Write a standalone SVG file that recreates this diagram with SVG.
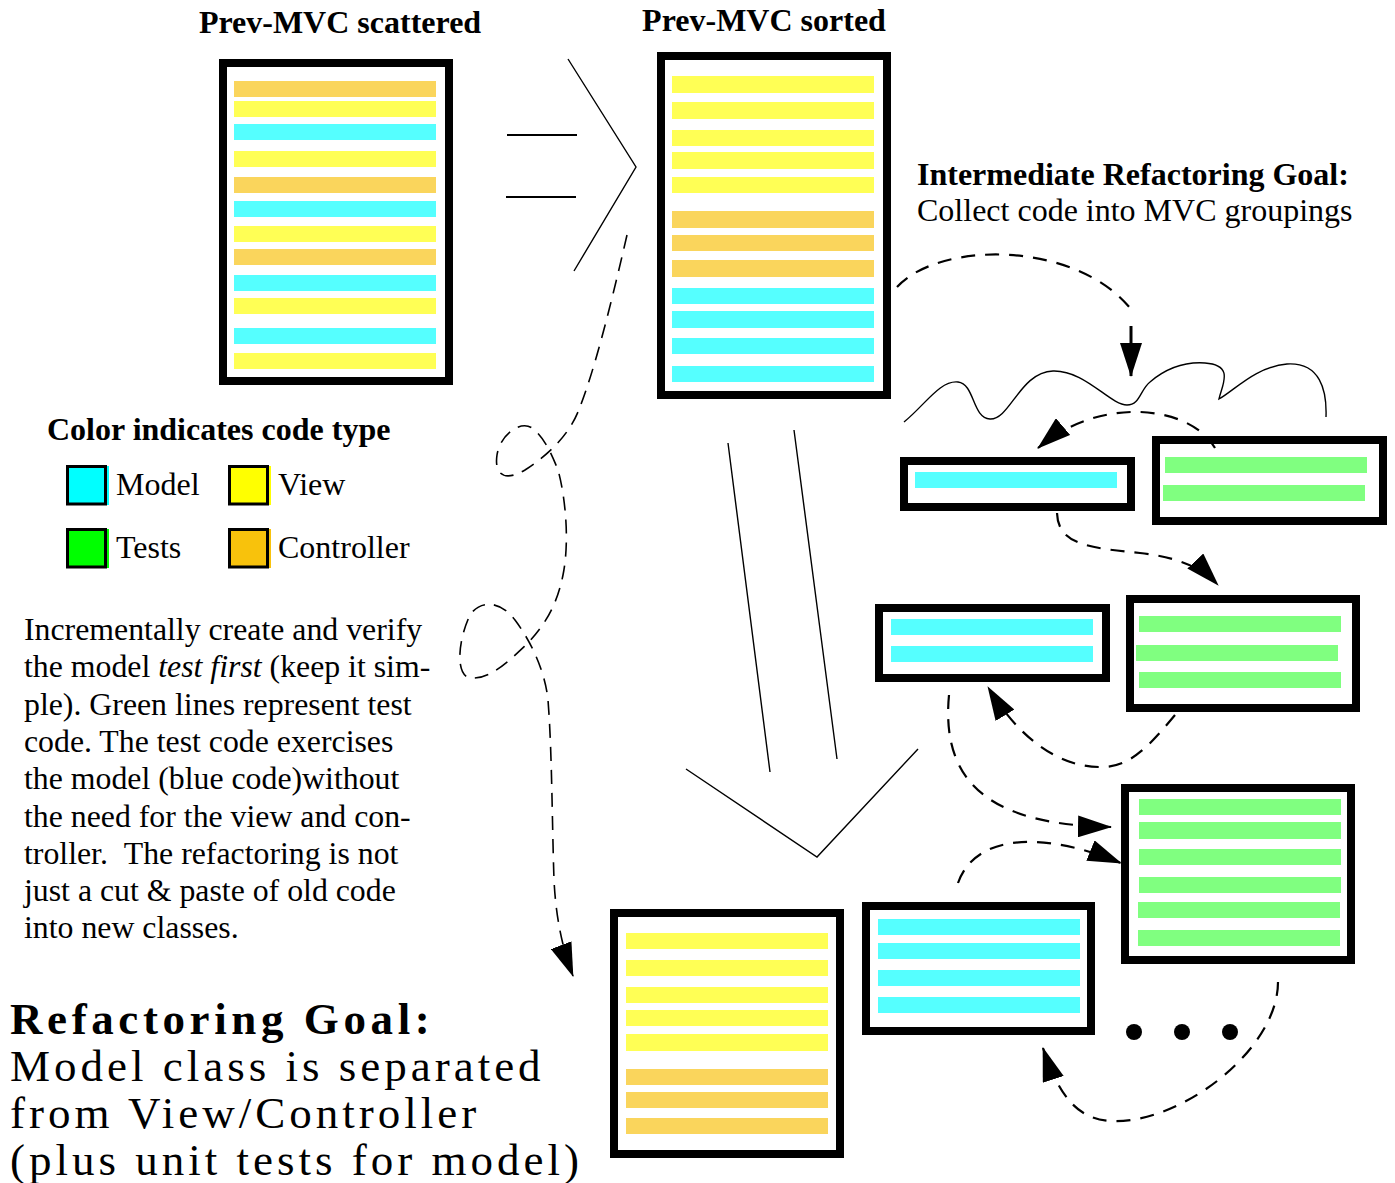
<svg xmlns="http://www.w3.org/2000/svg" width="1395" height="1183" viewBox="0 0 1395 1183">
<defs>
<style>
.box{fill:#fff;stroke:#000;stroke-width:8}
.m{fill:#55FFFF}.v{fill:#FFFF55}.c{fill:#FAD55C}.t{fill:#80FF80}
.thin{fill:none;stroke:#000;stroke-width:1.4}
.bar{fill:none;stroke:#000;stroke-width:2}
.dash{fill:none;stroke:#000;stroke-width:2.2;stroke-dasharray:14 10}
.dashthin{fill:none;stroke:#000;stroke-width:1.6;stroke-dasharray:14 9}
.sw{stroke:#000;stroke-width:3;fill:none}
text{font-family:"Liberation Serif","Times New Roman",serif;fill:#000}
.b{font-weight:bold}
.f{font-size:32px}
.big{font-size:45px;letter-spacing:4px}
.bigb{font-size:45px;letter-spacing:4.6px;font-weight:bold}
</style>
<marker id="ah" markerUnits="userSpaceOnUse" markerWidth="34" markerHeight="22" viewBox="0 0 34 22" refX="33" refY="11" orient="auto">
<path d="M0,0 L34,11 L0,22 z" fill="#000" stroke="none"/>
</marker>
</defs>
<rect width="1395" height="1183" fill="#fff"/>

<g id="title-scattered"><text class="b f" x="340" y="33" text-anchor="middle">Prev-MVC scattered</text></g>
<g id="title-sorted"><text class="b f" x="764" y="31" text-anchor="middle">Prev-MVC sorted</text></g>

<g id="box-scattered">
<rect class="box" x="223" y="63" width="226" height="318"/>
<rect class="c" x="234" y="81" width="202" height="16"/>
<rect class="v" x="234" y="101" width="202" height="16"/>
<rect class="m" x="234" y="124" width="202" height="16"/>
<rect class="v" x="234" y="151" width="202" height="16"/>
<rect class="c" x="234" y="177" width="202" height="16"/>
<rect class="m" x="234" y="201" width="202" height="16"/>
<rect class="v" x="234" y="226" width="202" height="16"/>
<rect class="c" x="234" y="249" width="202" height="16"/>
<rect class="m" x="234" y="275" width="202" height="16"/>
<rect class="v" x="234" y="298" width="202" height="16"/>
<rect class="m" x="234" y="328" width="202" height="16"/>
<rect class="v" x="234" y="353" width="202" height="16"/>
</g>

<g id="box-sorted">
<rect class="box" x="661" y="56" width="226" height="339"/>
<rect class="v" x="672" y="76" width="202" height="17"/>
<rect class="v" x="672" y="102" width="202" height="17"/>
<rect class="v" x="672" y="130" width="202" height="16"/>
<rect class="v" x="672" y="152" width="202" height="17"/>
<rect class="v" x="672" y="177" width="202" height="16"/>
<rect class="c" x="672" y="211" width="202" height="17"/>
<rect class="c" x="672" y="235" width="202" height="16"/>
<rect class="c" x="672" y="260" width="202" height="17"/>
<rect class="m" x="672" y="288" width="202" height="16"/>
<rect class="m" x="672" y="311" width="202" height="17"/>
<rect class="m" x="672" y="338" width="202" height="16"/>
<rect class="m" x="672" y="366" width="202" height="16"/>
</g>

<g id="intermediate-goal">
<text class="b f" x="917" y="185">Intermediate Refactoring Goal:</text>
<text class="f" x="917" y="221">Collect code into MVC groupings</text>
</g>

<g id="legend">
<text class="b f" x="47" y="440">Color indicates code type</text>
<rect x="67" y="466" width="42" height="39" fill="#00FFFF"/><rect class="sw" x="67.5" y="466.5" width="38" height="37.5"/>
<text class="f" x="116" y="495">Model</text>
<rect x="229" y="466" width="42" height="39" fill="#FFFF00"/><rect class="sw" x="229.5" y="466.5" width="38" height="37.5"/>
<text class="f" x="278" y="495">View</text>
<rect x="67" y="529" width="42" height="39" fill="#00FF00"/><rect class="sw" x="67.5" y="529.5" width="38" height="37.5"/>
<text class="f" x="116" y="558">Tests</text>
<rect x="229" y="529" width="42" height="39" fill="#F8C20C"/><rect class="sw" x="229.5" y="529.5" width="38" height="37.5"/>
<text class="f" x="278" y="558">Controller</text>
</g>

<g id="description" style="font-size:31.8px">
<text x="24" y="640">Incrementally create and verify</text>
<text x="24" y="677.3">the model <tspan font-style="italic">test first</tspan> (keep it sim-</text>
<text x="24" y="714.6">ple). Green lines represent test</text>
<text x="24" y="751.9">code. The test code exercises</text>
<text x="24" y="789.2">the model (blue code)without</text>
<text x="24" y="826.5">the need for the view and con-</text>
<text x="24" y="863.8">troller. &#160;The refactoring is not</text>
<text x="24" y="901.1">just a cut &amp; paste of old code</text>
<text x="24" y="938.4">into new classes.</text>
</g>

<g id="refactoring-goal">
<text class="bigb" x="10" y="1034">Refactoring Goal:</text>
<text class="big" x="10" y="1081">Model class is separated</text>
<text class="big" x="10" y="1128">from View/Controller</text>
<text class="big" x="10" y="1175">(plus unit tests for model)</text>
</g>

<g id="box-a">
<rect class="box" x="904" y="461" width="227" height="46"/>
<rect class="m" x="915" y="472" width="202" height="16"/>
</g>
<g id="box-b">
<rect class="box" x="1156" y="440" width="227" height="81"/>
<rect class="t" x="1165" y="457" width="202" height="16"/>
<rect class="t" x="1163" y="485" width="202" height="16"/>
</g>
<g id="box-c">
<rect class="box" x="879" y="608" width="227" height="70"/>
<rect class="m" x="891" y="619" width="202" height="16"/>
<rect class="m" x="891" y="646" width="202" height="16"/>
</g>
<g id="box-d">
<rect class="box" x="1130" y="599" width="226" height="109"/>
<rect class="t" x="1139" y="616" width="202" height="16"/>
<rect class="t" x="1136" y="645" width="202" height="16"/>
<rect class="t" x="1139" y="672" width="202" height="16"/>
</g>
<g id="box-e">
<rect class="box" x="1125" y="788" width="226" height="172"/>
<rect class="t" x="1139" y="799" width="202" height="16"/>
<rect class="t" x="1139" y="822" width="202" height="17"/>
<rect class="t" x="1139" y="849" width="202" height="16"/>
<rect class="t" x="1139" y="877" width="202" height="16"/>
<rect class="t" x="1138" y="902" width="202" height="16"/>
<rect class="t" x="1138" y="930" width="202" height="16"/>
</g>
<g id="box-f">
<rect class="box" x="866" y="906" width="225" height="125"/>
<rect class="m" x="878" y="919" width="202" height="16"/>
<rect class="m" x="878" y="943" width="202" height="16"/>
<rect class="m" x="878" y="970" width="202" height="16"/>
<rect class="m" x="878" y="997" width="202" height="16"/>
</g>
<g id="box-g">
<rect class="box" x="614" y="913" width="226" height="241"/>
<rect class="v" x="626" y="933" width="202" height="16"/>
<rect class="v" x="626" y="960" width="202" height="16"/>
<rect class="v" x="626" y="987" width="202" height="16"/>
<rect class="v" x="626" y="1010" width="202" height="16"/>
<rect class="v" x="626" y="1034" width="202" height="17"/>
<rect class="c" x="626" y="1069" width="202" height="16"/>
<rect class="c" x="626" y="1092" width="202" height="16"/>
<rect class="c" x="626" y="1118" width="202" height="16"/>
</g>
<g id="ellipsis">
<circle cx="1134" cy="1032" r="8"/><circle cx="1182" cy="1032" r="8"/><circle cx="1230" cy="1032" r="8"/>
</g>

<g id="connectors">
<path class="bar" d="M507 135 H577 M506 197 H576"/>
<polyline class="thin" points="568,59 636,167 574,271"/>
<path class="thin" d="M728 443 L770 772 M794 430 L837 759"/>
<polyline class="thin" points="686,769 817,857 918,749"/>
<path class="thin" d="M904 422 C925 405 940 380 958 382 C975 384 972 418 990 419 C1010 420 1020 372 1053 371 C1085 370 1110 405 1127 405 C1140 405 1140 390 1150 382 C1170 365 1190 362 1205 363 C1235 365 1222 385 1219 399 C1235 390 1255 367 1287 364 C1320 362 1327 390 1326 417"/>
<path class="dash" d="M897 287 C940 240 1080 240 1134 313"/>
<path class="sw" d="M1131 326 L1131 376" marker-end="url(#ah)"/>
<path class="dash" d="M1215 448 C1190 405 1100 395 1038 448" marker-end="url(#ah)"/>
<path class="dash" d="M1057 513 C1058 545 1090 548 1140 553 C1175 557 1200 566 1218 585" marker-end="url(#ah)"/>
<path class="dash" d="M1175 715 C1150 745 1130 768 1100 767 C1060 767 1020 740 988 687" marker-end="url(#ah)"/>
<path class="dash" d="M949 695 C940 790 1000 825 1111 827" marker-end="url(#ah)"/>
<path class="dash" d="M958 883 C975 835 1040 830 1121 863" marker-end="url(#ah)"/>
<path class="dash" d="M1278 982 C1278 1050 1180 1125 1110 1121 C1080 1119 1060 1100 1043 1048" marker-end="url(#ah)"/>
<path class="dashthin" d="M627 235 C612 300 595 370 578 412 C568 436 548 455 525 470 C505 482 494 475 497 455 C500 435 520 420 532 428 C545 438 552 455 558 470 C565 495 570 540 563 575 C557 605 545 625 527 644 C510 660 490 680 470 678 C455 675 458 640 470 615 C480 600 500 600 515 620 C530 640 545 670 548 700 C552 750 552 820 554 880 C556 920 563 950 573 976" marker-end="url(#ah)"/>
</g>
</svg>
